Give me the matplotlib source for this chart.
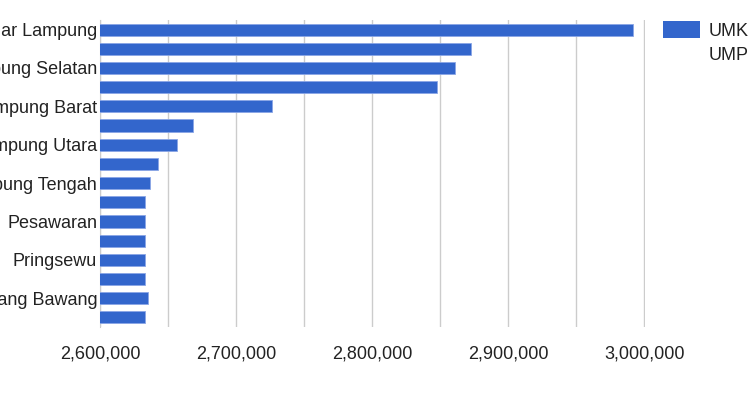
import matplotlib
matplotlib.use("Agg")
from matplotlib import pyplot as plt
from matplotlib.patches import Patch
from matplotlib.ticker import FuncFormatter, MultipleLocator

regions = ["Bandar Lampung", "Metro", "Lampung Selatan", "Tulang Bawang Barat",
           "Lampung Barat", "Way Kanan", "Lampung Utara", "Mesuji",
           "Lampung Tengah", "Lampung Timur", "Pesawaran", "Tanggamus",
           "Pringsewu", "Pesisir Barat", "Tulang Bawang", "Pringsewu Barat"]
umk = [2991900, 2872800, 2861000, 2847800,
       2726100, 2668400, 2656300, 2642600,
       2637100, 2633300, 2633300, 2633300,
       2633300, 2633300, 2635300, 2633300]
shown = [0, 2, 4, 6, 8, 10, 12, 14]

plt.rcParams['font.family'] = ['Liberation Sans', 'DejaVu Sans']

fig = plt.figure(figsize=(7.5, 3.96), dpi=100)
ax = fig.add_axes([100/750, 1-327/396, 545/750, 307/396])

ypos = list(range(len(regions)))
ax.barh(ypos, umk, height=0.63, left=0, color="#3366cc",
        edgecolor="#8aa6e6", linewidth=0.6, zorder=3)

ax.set_xlim(2600000, 3000600)
ax.set_ylim(len(regions) - 0.5, -0.5)
ax.xaxis.set_major_locator(MultipleLocator(100000))
ax.xaxis.set_minor_locator(MultipleLocator(50000))
ax.xaxis.set_major_formatter(FuncFormatter(lambda v, p: f"{int(v):,}"))
ax.grid(axis="x", which="both", color="#cccccc", linewidth=1, zorder=0)

ax.set_yticks(shown)
ax.set_yticklabels([regions[i] for i in shown])
ax.tick_params(axis="both", which="both", length=0, labelsize=13, labelcolor="#222222")
ax.tick_params(axis="x", pad=13)
ax.tick_params(axis="y", pad=2)

for s in ["top", "right", "bottom"]:
    ax.spines[s].set_visible(False)
ax.spines["left"].set_color("#cccccc")

handles = [Patch(facecolor="#3366cc", edgecolor="none"),
           Patch(facecolor="none", edgecolor="none")]
fig.legend(handles, ["UMK", "UMP"], loc="upper left",
           bbox_to_anchor=(654/750, 1-12/396), frameon=False,
           fontsize=13, handlelength=2.05, handleheight=1.1,
           handletextpad=0.45, labelspacing=0.32, borderpad=0,
           labelcolor="#222222")

fig.savefig("out.png", dpi=100)
